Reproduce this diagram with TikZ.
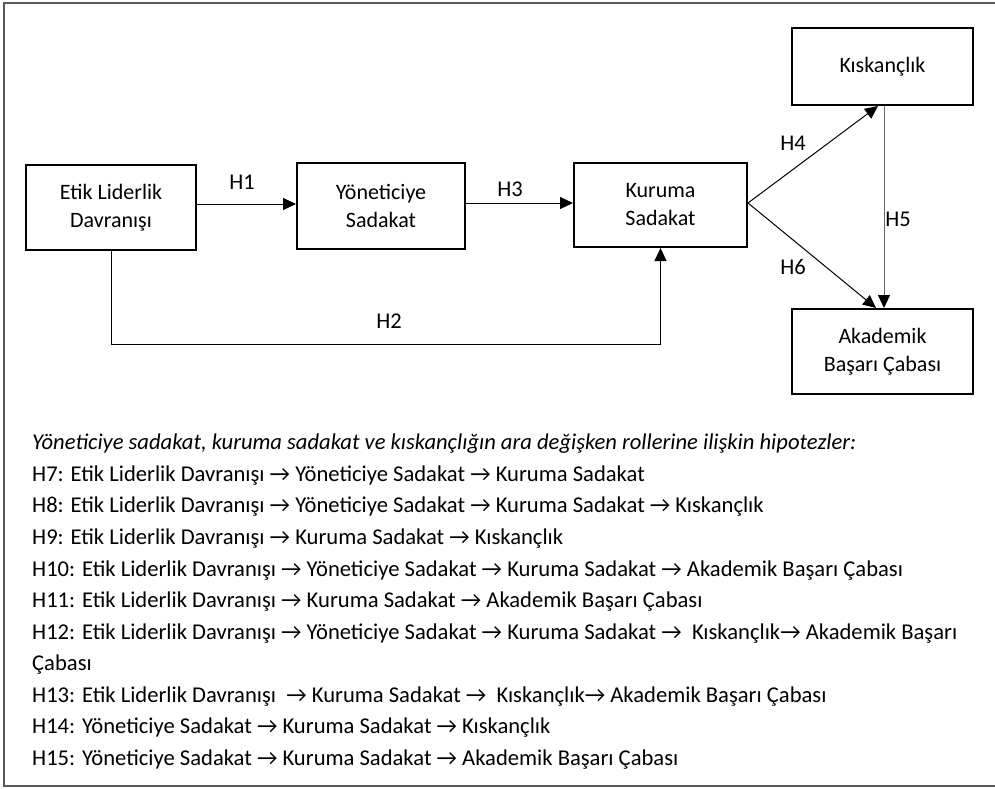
\documentclass[tikz,border=0pt]{standalone}
\usepackage{fontspec}
\setmainfont{Carlito}
\usetikzlibrary{arrows.meta,calc}
\tikzset{
  boxnode/.style={draw=black,line width=2pt,align=center,inner sep=0pt,
    font=\fontsize{22}{28}\selectfont},
  conn/.style={line width=1pt,-{Triangle[length=13pt,width=12pt,color=black]}},
  lbl/.style={font=\fontsize{22.5}{25}\selectfont,inner sep=0pt},
  hyp/.style={anchor=base west,inner sep=0pt,font=\fontsize{22.6}{25}\selectfont}
}
\newcommand{\ra}{→}
\begin{document}
\begin{tikzpicture}[x=1pt,y=-1pt]
\useasboundingbox (0,0) rectangle (995,788);
\draw[gray!70!black,line width=1.5pt] (995,3) -- (4,3) -- (4,786) -- (995,786);
% boxes
\node[boxnode,minimum width=170pt,minimum height=85pt] (etik) at (111,207.5) {Etik Liderlik\\Davranışı};
\node[boxnode,minimum width=168pt,minimum height=86pt] (yon) at (381,206) {Yöneticiye\\Sadakat};
\node[boxnode,minimum width=173pt,minimum height=84pt] (kur) at (660.5,205) {Kuruma\\Sadakat};
\node[boxnode,minimum width=181pt,minimum height=77pt] (kis) at (882.5,66.5) {Kıskançlık};
\node[boxnode,minimum width=181pt,minimum height=85pt] (aka) at (882.5,351.5) {Akademik\\Başarı Çabası};
% connection points
\coordinate (e1) at (etik.east |- 0,204);
\coordinate (y1) at (yon.west |- 0,204);
\coordinate (y2) at (yon.east |- 0,203);
\coordinate (k1) at (kur.west |- 0,203);
\coordinate (k2) at (kur.east |- 0,203);
\coordinate (kisB4) at (kis.south -| 878,0);
\coordinate (kisB5) at (kis.south -| 884,0);
\coordinate (akaT6) at (aka.north -| 876,0);
\coordinate (akaT5) at (aka.north -| 884,0);
\coordinate (eB) at (etik.south -| 111,0);
\coordinate (kB) at (kur.south);
\coordinate (c1) at (111,344);
\coordinate (c2) at (kur.south |- 0,344);
% connectors
\draw[conn] (e1) -- (y1);
\draw[conn] (y2) -- (k1);
\draw[conn] (eB) -- (c1) -- (c2) -- (kB);
\draw[conn] (k2) -- (kisB4);
\draw[conn] (k2) -- (akaT6);
\draw[conn,draw=gray!80!black] (kisB5) -- (akaT5);
% labels
\node[lbl] (h1) at (242,182) {H1};
\node[lbl] (h3) at (510,189) {H3};
\node[lbl] (h2) at (389,321) {H2};
\node[lbl] (h4) at (793,143) {H4};
\node[lbl] (h6) at (793,267) {H6};
\node[lbl] (h5) at (898,219) {H5};
% hypotheses
\node[hyp] (t0) at (32,449) {\itshape Yöneticiye sadakat, kuruma sadakat ve kıskançlığın ara değişken rollerine ilişkin hipotezler:};
\node[hyp] (t7) at (32,481) {H7: Etik Liderlik Davranışı \ra{} Yöneticiye Sadakat \ra{} Kuruma Sadakat};
\node[hyp] (t8) at (32,512.5) {H8: Etik Liderlik Davranışı \ra{} Yöneticiye Sadakat \ra{} Kuruma Sadakat \ra{} Kıskançlık};
\node[hyp] (t9) at (32,544) {H9: Etik Liderlik Davranışı \ra{} Kuruma Sadakat \ra{} Kıskançlık};
\node[hyp] (t10) at (32,576) {H10: Etik Liderlik Davranışı \ra{} Yöneticiye Sadakat \ra{} Kuruma Sadakat \ra{} Akademik Başarı Çabası};
\node[hyp] (t11) at (32,607.5) {H11: Etik Liderlik Davranışı \ra{} Kuruma Sadakat \ra{} Akademik Başarı Çabası};
\node[hyp] (t12) at (32,639) {H12: Etik Liderlik Davranışı \ra{} Yöneticiye Sadakat \ra{} Kuruma Sadakat \ra{}\ \ Kıskançlık\ra{} Akademik Başarı};
\node[hyp] (t12b) at (32,670.5) {Çabası};
\node[hyp] (t13) at (32,702) {H13: Etik Liderlik Davranışı\ \ \ra{} Kuruma Sadakat \ra{}\ \ Kıskançlık\ra{} Akademik Başarı Çabası};
\node[hyp] (t14) at (32,733.5) {H14: Yöneticiye Sadakat \ra{} Kuruma Sadakat \ra{} Kıskançlık};
\node[hyp] (t15) at (32,765) {H15: Yöneticiye Sadakat \ra{} Kuruma Sadakat \ra{} Akademik Başarı Çabası};
\end{tikzpicture}
\end{document}
